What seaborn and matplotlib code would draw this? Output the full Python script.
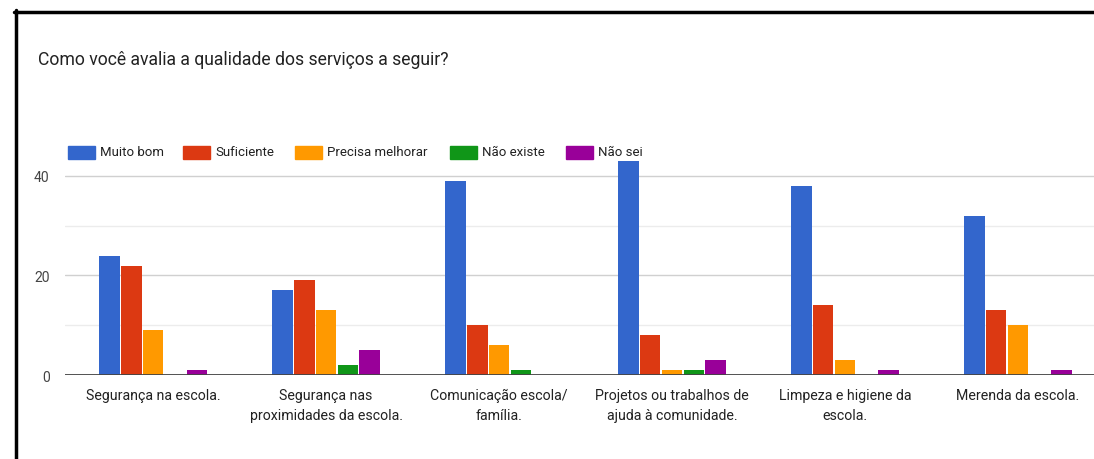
import matplotlib
matplotlib.use("Agg")
import matplotlib.pyplot as plt
from matplotlib.lines import Line2D
from matplotlib.patches import Rectangle
import seaborn as sns
import pandas as pd

categories = [
    "Segurança na escola.",
    "Segurança nas\nproximidades da escola.",
    "Comunicação escola/\nfamília.",
    "Projetos ou trabalhos de\najuda à comunidade.",
    "Limpeza e higiene da\nescola.",
    "Merenda da escola.",
]
series = ["Muito bom", "Suficiente", "Precisa melhorar", "Não existe", "Não sei"]
muito_bom = [24, 17, 39, 43, 38, 32]
suficiente = [22, 19, 10, 8, 14, 13]
precisa_melhorar = [9, 13, 6, 1, 3, 10]
nao_existe = [0, 2, 1, 1, 0, 0]
nao_sei = [1, 5, 0, 3, 1, 1]
colors = ["#3366cc", "#dc3912", "#ff9900", "#109618", "#990099"]

values = [muito_bom, suficiente, precisa_melhorar, nao_existe, nao_sei]
rows = []
for name, vals in zip(series, values):
    for cat, v in zip(categories, vals):
        rows.append({"categoria": cat, "resposta": name, "valor": v})
df = pd.DataFrame(rows)

sns.set_theme(style="white")
plt.rcParams["font.family"] = ["Roboto", "DejaVu Sans"]

fig = plt.figure(figsize=(10.94, 4.60), dpi=100)
ax = fig.add_axes([0.0594, 0.1826, 0.9406, 0.476])

sns.barplot(data=df, x="categoria", y="valor", hue="resposta",
            order=categories, hue_order=series, palette=colors,
            width=0.63, gap=0.06, edgecolor="none", saturation=1,
            ax=ax, legend=False)

ax.set_xlim(-0.51, 5.44)
ax.set_ylim(0, 44)
ax.set_yticks([0, 20, 40])
for y in [10, 30]:
    ax.axhline(y, color="#ececec", lw=1, zorder=0)
for y in [20, 40]:
    ax.axhline(y, color="#d0d0d0", lw=1, zorder=0)
ax.axhline(0, color="#444444", lw=1.3, zorder=3)
for s in ax.spines.values():
    s.set_visible(False)
ax.set_xlabel("")
ax.set_ylabel("")
ax.tick_params(axis="y", length=0, pad=11, labelsize=10, labelcolor="#444444")
ax.tick_params(axis="x", length=0, pad=9, labelsize=10.2, labelcolor="#222222")
for lbl in ax.get_xticklabels():
    lbl.set_linespacing(1.55)
for b in ax.patches:
    b.set_clip_on(False)

# legend row across the top of the chart
legend_x = [68, 183, 295, 450, 566]
for x, name, c in zip(legend_x, series, colors):
    fig.add_artist(Rectangle((x / 1094, 1 - 160 / 460), 27 / 1094, 13 / 460,
                             transform=fig.transFigure, color=c))
    fig.text((x + 32) / 1094, 1 - 153 / 460, name, fontsize=9.5,
             color="#222222", va="center", ha="left")

fig.text(38 / 1094, 1 - 60 / 460, "Como você avalia a qualidade dos serviços a seguir?",
         fontsize=12.7, color="#222222", va="center", ha="left")

# card frame
fig.add_artist(Line2D([15.5 / 1094, 15.5 / 1094], [0, 1 - 11 / 460],
                      transform=fig.transFigure, color="black", lw=2.5))
fig.add_artist(Line2D([14 / 1094, 1], [1 - 12.5 / 460, 1 - 12.5 / 460],
                      transform=fig.transFigure, color="black", lw=2.5))

fig.savefig("out.png", dpi=100, facecolor="white")
